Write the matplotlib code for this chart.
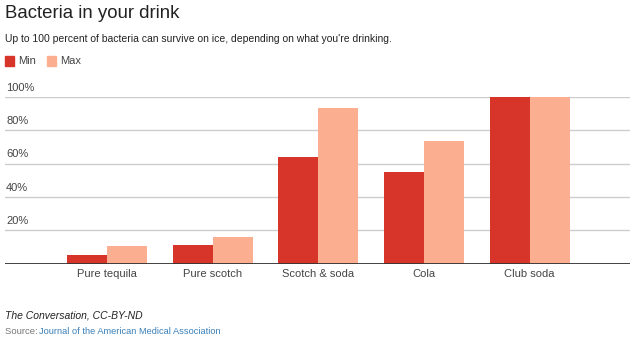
import matplotlib
matplotlib.use("Agg")
import matplotlib.pyplot as plt
import numpy as np

categories = ["Pure tequila", "Pure scotch", "Scotch & soda", "Cola", "Club soda"]
min_vals = [5, 11, 64, 55, 100]
max_vals = [10.5, 16, 93.5, 73.5, 100]
yticks = [20, 40, 60, 80, 100]
ytick_labels = ["20%", "40%", "60%", "80%", "100%"]

plt.rcParams['font.family'] = ['Liberation Sans', 'DejaVu Sans']

W, H = 634, 347
fig = plt.figure(figsize=(W / 100, H / 100), dpi=100)
fig.patch.set_facecolor("white")

ax_left, ax_right = 5, 630
ax_bottom_px, ax_top_px = 263.5, 97
ax = fig.add_axes([ax_left / W, (H - ax_bottom_px) / H,
                   (ax_right - ax_left) / W, (ax_bottom_px - ax_top_px) / H])

x = np.arange(len(categories))
bw = 0.378
c_min = "#d8352a"
c_max = "#fcae91"
ax.bar(x - bw / 2, min_vals, width=bw, color=c_min, zorder=3)
ax.bar(x + bw / 2, max_vals, width=bw, color=c_max, zorder=3)

ax.set_xlim(-0.965, 4.95)
ax.set_ylim(0, 100)
for s in ax.spines.values():
    s.set_visible(False)
for t in yticks:
    ax.axhline(t, color="#cccccc", lw=1, zorder=1)
ax.axhline(0, color="#333333", lw=1.3, zorder=4)
ax.set_yticks([])
ax.set_xticks(x)
ax.set_xticklabels(categories, fontsize=8, color="#444444")
ax.tick_params(axis="x", length=0, pad=4)

for t, lab in zip(yticks, ytick_labels):
    ax.text(-0.955, t + 2.5, lab, fontsize=8, color="#444444",
            ha="left", va="bottom", zorder=5)

def fy(py):
    return 1 - py / H

def fx(px):
    return px / W

fig.text(fx(5), fy(14), "Bacteria in your drink", fontsize=13.4, color="#222222",
         ha="left", va="center")
fig.text(fx(5), fy(39), "Up to 100 percent of bacteria can survive on ice, depending on what you're drinking.",
         fontsize=7.45, color="#222222", ha="left", va="center")

# legend
from matplotlib.patches import Rectangle
fig.patches.append(Rectangle((fx(5), fy(66)), 9 / W, 10 / H, transform=fig.transFigure,
                             color=c_min, figure=fig))
fig.text(fx(18), fy(61), "Min", fontsize=8, color="#444444", ha="left", va="center")
fig.patches.append(Rectangle((fx(47), fy(66)), 9 / W, 10 / H, transform=fig.transFigure,
                             color=c_max, figure=fig))
fig.text(fx(60), fy(61), "Max", fontsize=8, color="#444444", ha="left", va="center")

fig.text(fx(5), fy(316), "The Conversation, CC-BY-ND", fontsize=7.5, style="italic",
         color="#222222", ha="left", va="center")
fig.text(fx(5), fy(331), "Source: ", fontsize=6.8, color="#777777", ha="left", va="center")
fig.text(fx(39), fy(331), "Journal of the American Medical Association", fontsize=6.7,
         color="#3a80b8", ha="left", va="center")

fig.savefig("out.png", dpi=100, facecolor="white")
